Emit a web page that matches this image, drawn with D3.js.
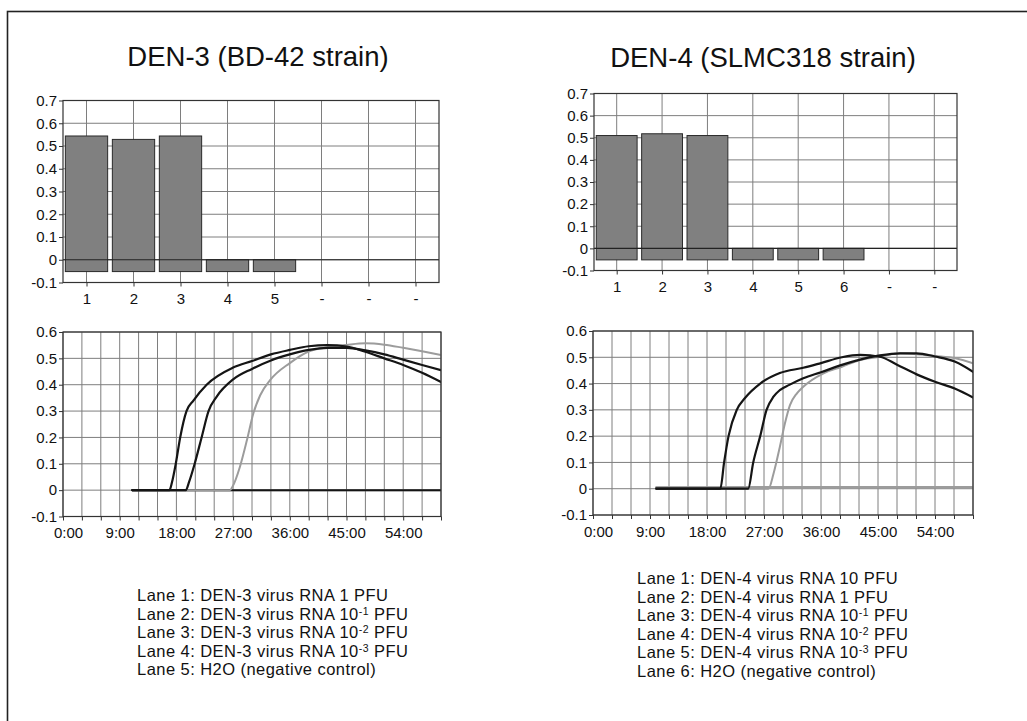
<!DOCTYPE html>
<html>
<head>
<meta charset="utf-8">
<script src="https://cdn.jsdelivr.net/npm/d3@7"></script>
<style>
  html, body { margin: 0; padding: 0; background: #fff; }
  svg { display: block; font-family: "Liberation Sans", Arial, sans-serif; }
</style>
</head>
<body>
<svg id="chart" width="1027" height="721"></svg>
<script>
// ---------------- DATA ----------------
const titles = ["DEN-3 (BD-42 strain)", "DEN-4 (SLMC318 strain)"];

const barLabels3 = ["1", "2", "3", "4", "5", "-", "-", "-"];
const barValues3 = [0.544, 0.529, 0.544, 0.0, 0.0];
const barLabels4 = ["1", "2", "3", "4", "5", "6", "-", "-"];
const barValues4 = [0.51, 0.518, 0.51, 0.0, 0.0, 0.0];
const barBase = -0.052;

const yTicksBar = [-0.1, 0, 0.1, 0.2, 0.3, 0.4, 0.5, 0.6, 0.7];
const yTicksLine = [-0.1, 0, 0.1, 0.2, 0.3, 0.4, 0.5, 0.6];
const xGridMinutes = [0, 3, 6, 9, 12, 15, 18, 21, 24, 27, 30, 33, 36, 39, 42, 45, 48, 51, 54, 57, 60];
const xLabelMinutes = [0, 9, 18, 27, 36, 45, 54];

// DEN-3 amplification curves: [minutes, signal]
const den3Lane1 = [[11,0],[16.9,0],[17.3,0.03],[17.9,0.1],[18.6,0.2],[19.6,0.3],[20.7,0.34],[22.8,0.4],[27,0.465],[30,0.49],[33,0.515],[36,0.532],[39,0.546],[42,0.55],[45,0.545],[48,0.525],[51,0.5],[54,0.475],[57,0.445],[60,0.41]];
const den3Lane2 = [[11,0],[19.5,0],[20.0,0.03],[20.9,0.1],[22,0.2],[23.1,0.3],[24.4,0.355],[27,0.42],[30,0.46],[33,0.492],[36,0.515],[39,0.532],[42,0.54],[45,0.54],[48,0.53],[51,0.515],[54,0.495],[57,0.475],[60,0.455]];
const den3Lane3 = [[11,0],[26.5,0],[26.9,0.013],[28.1,0.09],[29.2,0.19],[30.2,0.29],[31.3,0.36],[32.9,0.418],[36,0.482],[39,0.526],[42,0.542],[45,0.551],[48,0.557],[51,0.552],[54,0.54],[57,0.527],[60,0.513]];
const den3Lane4 = [[11,0],[20,0],[30,0],[40,0],[50,0],[60,0]];
const den3Lane5 = [[11,0],[20,0],[30,0],[40,0],[50,0],[60,0]];

// DEN-4 amplification curves
const den4Lane1 = [[10,0],[20.1,0],[20.7,0.1],[21.4,0.2],[22.7,0.3],[24,0.345],[26.4,0.4],[29.5,0.44],[33.2,0.46],[36,0.478],[39.3,0.5],[42.2,0.509],[45.3,0.502],[48,0.472],[51.1,0.435],[54,0.407],[57.2,0.38],[60,0.347]];
const den4Lane2 = [[10,0],[24.5,0],[25.3,0.1],[26.4,0.2],[27.4,0.3],[28.5,0.35],[29.5,0.375],[31,0.395],[33.2,0.42],[36,0.443],[39.3,0.471],[42,0.49],[45.3,0.507],[48.5,0.515],[51.1,0.515],[54,0.503],[57.2,0.483],[60,0.445]];
const den4Lane3 = [[10,0],[27.7,0],[28.5,0.057],[29.5,0.159],[30.3,0.248],[31.1,0.318],[32.2,0.363],[33.2,0.388],[36.4,0.439],[39.3,0.464],[42.2,0.49],[45.3,0.502],[48.5,0.515],[51.1,0.512],[54,0.505],[57.2,0.496],[60,0.477]];
const den4Lane4 = [[10,0.004],[20,0.004],[30,0.005],[40,0.006],[50,0.006],[60,0.006]];
const den4Lane5 = [[10,0.004],[20,0.004],[30,0.005],[40,0.006],[50,0.006],[60,0.006]];
const den4Lane6 = [[10,0.004],[20,0.004],[30,0.005],[40,0.006],[50,0.006],[60,0.006]];

const legend3 = [
  "Lane 1: DEN-3 virus RNA 1 PFU",
  "Lane 2: DEN-3 virus RNA 10^-1 PFU",
  "Lane 3: DEN-3 virus RNA 10^-2 PFU",
  "Lane 4: DEN-3 virus RNA 10^-3 PFU",
  "Lane 5: H2O (negative control)"
];
const legend4 = [
  "Lane 1: DEN-4 virus RNA 10 PFU",
  "Lane 2: DEN-4 virus RNA 1 PFU",
  "Lane 3: DEN-4 virus RNA 10^-1 PFU",
  "Lane 4: DEN-4 virus RNA 10^-2 PFU",
  "Lane 5: DEN-4 virus RNA 10^-3 PFU",
  "Lane 6: H2O (negative control)"
];

// ---------------- STYLE ----------------
const GRID = "#7e7e7e";
const FRAME = "#333";
const BLACK_LINE = "#151515";
const GRAY_LINE = "#9c9c9c";
const BAR_FILL = "#808080";
const TICK_FONT = 15;

const svg = d3.select("#chart");

// outer border
svg.append("rect")
  .attr("x", 7.5).attr("y", 11.5).attr("width", 1040).attr("height", 740)
  .attr("fill", "none").attr("stroke", "#222").attr("stroke-width", 1.6);

function fmtY(v) { return Math.abs(v) < 1e-9 ? "0" : String(+v.toFixed(1)); }

function styleAxis(g) {
  g.select(".domain").remove();
  g.selectAll(".tick line").attr("stroke", FRAME).attr("stroke-width", 1);
  g.selectAll(".tick text").attr("fill", "#111").attr("font-size", TICK_FONT)
    .attr("font-family", "'Liberation Sans', Arial, sans-serif");
}

function drawBars(cfg) {
  const g = svg.append("g");
  const idx = d3.range(cfg.labels.length);
  const xb = d3.scaleBand().domain(idx).range([cfg.x0, cfg.x1]).padding(0);
  const y = d3.scaleLinear().domain([-0.1, 0.7]).range([cfg.y1, cfg.y0]);
  const cx = i => xb(i) + xb.bandwidth() / 2;

  g.append("g").selectAll("line").data(yTicksBar).join("line")
    .attr("x1", cfg.x0).attr("x2", cfg.x1).attr("y1", d => y(d)).attr("y2", d => y(d))
    .attr("stroke", GRID).attr("stroke-width", 1);
  g.append("g").selectAll("line").data(idx).join("line")
    .attr("x1", d => cx(d)).attr("x2", d => cx(d)).attr("y1", cfg.y0).attr("y2", cfg.y1)
    .attr("stroke", GRID).attr("stroke-width", 1);

  const bw = xb.bandwidth() * 0.9;
  g.append("g").selectAll("rect").data(cfg.values).join("rect")
    .attr("x", (d, i) => cx(i) - bw / 2)
    .attr("width", bw)
    .attr("y", d => y(d))
    .attr("height", d => y(barBase) - y(d))
    .attr("fill", BAR_FILL).attr("stroke", "#2a2a2a").attr("stroke-width", 1);

  g.append("line").attr("x1", cfg.x0).attr("x2", cfg.x1).attr("y1", y(0)).attr("y2", y(0))
    .attr("stroke", "#222").attr("stroke-width", 1.1);

  g.append("rect").attr("x", cfg.x0).attr("y", cfg.y0)
    .attr("width", cfg.x1 - cfg.x0).attr("height", cfg.y1 - cfg.y0)
    .attr("fill", "none").attr("stroke", FRAME).attr("stroke-width", 1.2);

  g.append("g").attr("transform", `translate(${cfg.x0},0)`)
    .call(d3.axisLeft(y).tickValues(yTicksBar).tickFormat(fmtY).tickSize(4).tickPadding(2))
    .call(styleAxis);
  g.append("g").attr("transform", `translate(0,${cfg.y1})`)
    .call(d3.axisBottom(d3.scalePoint().domain(idx).range([cx(0), cx(idx.length - 1)]))
      .tickFormat(i => cfg.labels[i]).tickSize(4).tickPadding(7))
    .call(styleAxis);
}

let clipId = 0;
function drawLines(cfg) {
  const g = svg.append("g");
  const x = d3.scaleLinear().domain([0, 60]).range([cfg.x0, cfg.x1]);
  const y = d3.scaleLinear().domain([-0.1, 0.6]).range([cfg.y1, cfg.y0]);

  g.append("g").selectAll("line").data(yTicksLine).join("line")
    .attr("x1", cfg.x0).attr("x2", cfg.x1).attr("y1", d => y(d)).attr("y2", d => y(d))
    .attr("stroke", GRID).attr("stroke-width", 1);
  g.append("g").selectAll("line").data(xGridMinutes).join("line")
    .attr("x1", d => x(d)).attr("x2", d => x(d)).attr("y1", cfg.y0).attr("y2", cfg.y1)
    .attr("stroke", GRID).attr("stroke-width", 1);

  const id = "clip" + (clipId++);
  svg.append("clipPath").attr("id", id).append("rect")
    .attr("x", cfg.x0).attr("y", cfg.y0).attr("width", cfg.x1 - cfg.x0).attr("height", cfg.y1 - cfg.y0);

  const line = d3.line().x(d => x(d[0])).y(d => y(d[1])).curve(d3.curveMonotoneX);
  const lg = g.append("g").attr("clip-path", `url(#${id})`);
  cfg.series.forEach(s => {
    lg.append("path").attr("d", line(s.data)).attr("fill", "none")
      .attr("stroke", s.color).attr("stroke-width", s.width)
      .attr("stroke-linejoin", "round").attr("stroke-linecap", "round");
  });

  g.append("rect").attr("x", cfg.x0).attr("y", cfg.y0)
    .attr("width", cfg.x1 - cfg.x0).attr("height", cfg.y1 - cfg.y0)
    .attr("fill", "none").attr("stroke", FRAME).attr("stroke-width", 1.2);

  g.append("g").attr("transform", `translate(${cfg.x0},0)`)
    .call(d3.axisLeft(y).tickValues(yTicksLine).tickFormat(fmtY).tickSize(4).tickPadding(2))
    .call(styleAxis);
  const xa = g.append("g").attr("transform", `translate(0,${cfg.y1})`)
    .call(d3.axisBottom(x).tickValues(xGridMinutes)
      .tickFormat(m => xLabelMinutes.includes(m) ? `${m}:00` : "").tickSize(4).tickPadding(7))
    .call(styleAxis);
  xa.selectAll(".tick text").filter(m => m === 0).attr("dx", 5);
}

function drawLegend(items, x0, yStart, step) {
  const g = svg.append("g").attr("font-size", 16.5).attr("letter-spacing", 0.45).attr("fill", "#111");
  items.forEach((txt, i) => {
    const t = g.append("text").attr("x", x0).attr("y", yStart + i * step);
    const m = txt.match(/^(.*?)\^(-\d+)(.*)$/);
    if (m) {
      t.append("tspan").text(m[1]);
      t.append("tspan").attr("font-size", 10.5).attr("dy", -5).text(m[2]);
      t.append("tspan").attr("dy", 5).text(m[3]);
    } else {
      t.text(txt);
    }
  });
}

// titles
svg.append("text").attr("x", 258).attr("y", 66).attr("text-anchor", "middle")
  .attr("font-size", 27.5).attr("fill", "#111").text(titles[0]);
svg.append("text").attr("x", 763).attr("y", 67).attr("text-anchor", "middle")
  .attr("font-size", 27.5).attr("fill", "#111").text(titles[1]);

drawBars({ x0: 63, x1: 439, y0: 100.5, y1: 282.5, labels: barLabels3, values: barValues3 });
drawBars({ x0: 594, x1: 957, y0: 93.5, y1: 270.5, labels: barLabels4, values: barValues4 });

drawLines({ x0: 63, x1: 441, y0: 332, y1: 516.5, series: [
  { data: den3Lane4, color: GRAY_LINE, width: 2 },
  { data: den3Lane5, color: BLACK_LINE, width: 2 },
  { data: den3Lane3, color: GRAY_LINE, width: 2 },
  { data: den3Lane2, color: BLACK_LINE, width: 2.2 },
  { data: den3Lane1, color: BLACK_LINE, width: 2.2 }
]});
drawLines({ x0: 593, x1: 973, y0: 331, y1: 515, series: [
  { data: den4Lane4, color: GRAY_LINE, width: 2.4 },
  { data: den4Lane5, color: GRAY_LINE, width: 2.4 },
  { data: den4Lane6, color: GRAY_LINE, width: 2.4 },
  { data: den4Lane3, color: GRAY_LINE, width: 2 },
  { data: den4Lane2, color: BLACK_LINE, width: 2.2 },
  { data: den4Lane1, color: BLACK_LINE, width: 2.2 }
]});

drawLegend(legend3, 137, 601, 18.5);
drawLegend(legend4, 637, 584, 18.5);
</script>
</body>
</html>
